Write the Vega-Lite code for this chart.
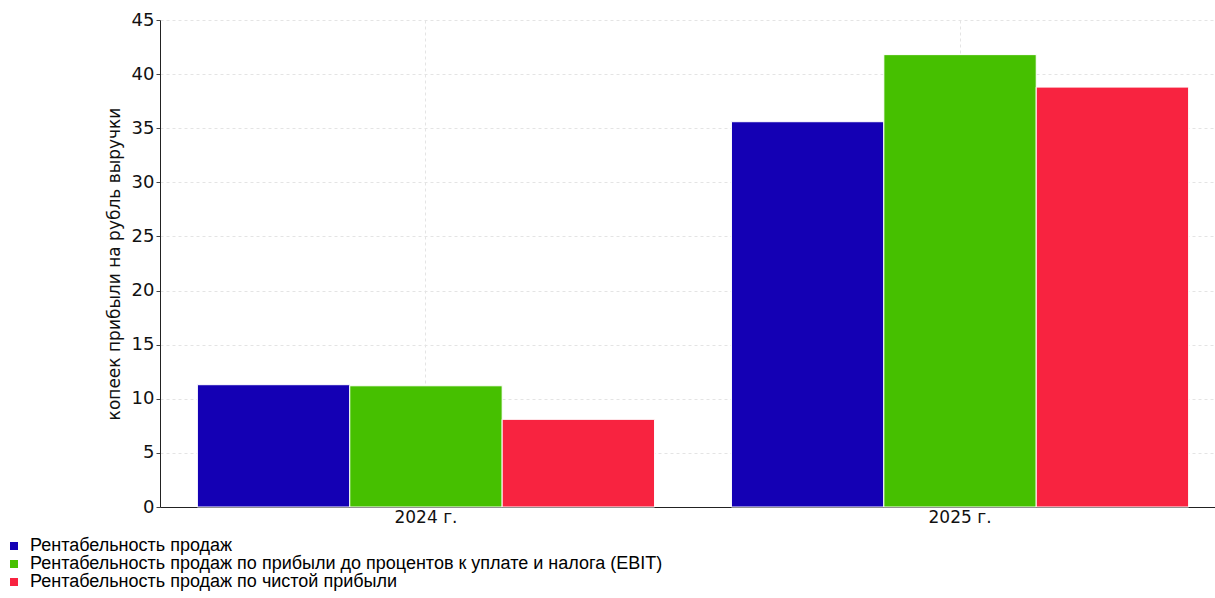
{
  "$schema": "https://vega.github.io/schema/vega-lite/v6.json",
  "autosize": {"type": "none"},
  "width": 1055,
  "height": 487,
  "padding": {"left": 160, "top": 20, "right": 0, "bottom": 91},
  "background": "white",
  "data": {
    "values": [
      {"year": "2024 г.", "series": "Рентабельность продаж", "value": 11.3},
      {"year": "2024 г.", "series": "Рентабельность продаж по прибыли до процентов к уплате и налога (EBIT)", "value": 11.2},
      {"year": "2024 г.", "series": "Рентабельность продаж по чистой прибыли", "value": 8.1},
      {"year": "2025 г.", "series": "Рентабельность продаж", "value": 35.6},
      {"year": "2025 г.", "series": "Рентабельность продаж по прибыли до процентов к уплате и налога (EBIT)", "value": 41.8},
      {"year": "2025 г.", "series": "Рентабельность продаж по чистой прибыли", "value": 38.8}
    ]
  },
  "config": {
    "view": {"stroke": null},
    "axis": {"labelFont": "DejaVu Sans", "titleFont": "DejaVu Sans"}
  },
  "mark": {"type": "bar", "stroke": "white", "strokeWidth": 1},
  "encoding": {
    "x": {
      "field": "year",
      "type": "nominal",
      "scale": {"range": [0, 1066], "paddingInner": 0.144, "paddingOuter": 0.07},
      "axis": {
        "title": null,
        "labelAngle": 0,
        "labelFontSize": 17,
        "labelColor": "#111",
        "labelPadding": 2,
        "ticks": false,
        "domainColor": "#222",
        "grid": true,
        "gridDash": [3, 3],
        "gridColor": "#e4e4e4",
        "bandPosition": 0.5
      }
    },
    "xOffset": {
      "field": "series",
      "type": "nominal",
      "sort": null,
      "scale": {"paddingInner": 0, "paddingOuter": 0}
    },
    "y": {
      "field": "value",
      "type": "quantitative",
      "scale": {"domain": [0, 45], "nice": false},
      "axis": {
        "title": "копеек прибыли на рубль выручки",
        "titleFontSize": 17,
        "titleFontWeight": "normal",
        "titleColor": "#111",
        "titlePadding": 8,
        "values": [0, 5, 10, 15, 20, 25, 30, 35, 40, 45],
        "labelFontSize": 18,
        "labelColor": "#111",
        "labelPadding": 2,
        "tickSize": 4,
        "tickColor": "#444",
        "domainColor": "#222",
        "gridDash": [3, 3],
        "gridColor": "#e4e4e4"
      }
    },
    "color": {
      "field": "series",
      "type": "nominal",
      "sort": null,
      "scale": {
        "domain": [
          "Рентабельность продаж",
          "Рентабельность продаж по прибыли до процентов к уплате и налога (EBIT)",
          "Рентабельность продаж по чистой прибыли"
        ],
        "range": ["#1400b4", "#46c000", "#f82340"]
      },
      "legend": {
        "title": null,
        "orient": "none",
        "legendX": -155,
        "legendY": 517,
        "direction": "vertical",
        "symbolType": "square",
        "symbolSize": 64,
        "symbolStrokeWidth": 0,
        "labelFont": "Liberation Sans",
        "labelFontSize": 18,
        "labelColor": "#000",
        "labelLimit": 1000,
        "rowPadding": 0,
        "labelOffset": 7
      }
    }
  }
}
